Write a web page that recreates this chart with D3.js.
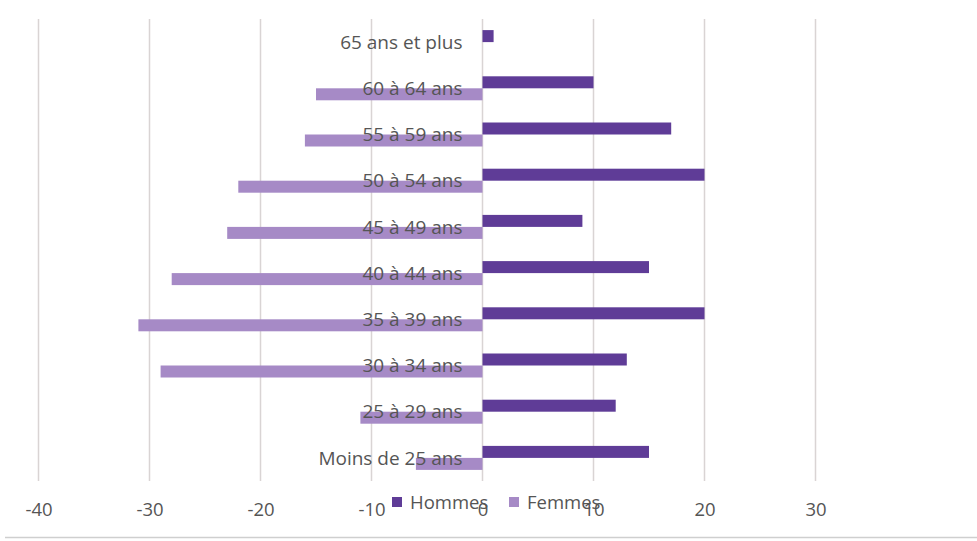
<!DOCTYPE html>
<html>
<head>
<meta charset="utf-8">
<script src="https://cdn.jsdelivr.net/npm/d3@7"></script>
<style>
  html, body { margin: 0; padding: 0; background: #fff; }
  svg { display: block; }
  text { font-family: "Open Sans", "Noto Sans", sans-serif; fill: #555555; }
</style>
</head>
<body>
<svg id="chart" width="977" height="541"></svg>
<script>
const categories = ["65 ans et plus", "60 à 64 ans", "55 à 59 ans", "50 à 54 ans", "45 à 49 ans",
                    "40 à 44 ans", "35 à 39 ans", "30 à 34 ans", "25 à 29 ans", "Moins de 25 ans"];
const hommes = [1, 10, 17, 20, 9, 15, 20, 13, 12, 15];
const femmes = [0, -15, -16, -22, -23, -28, -31, -29, -11, -6];
const tickValues = [-40, -30, -20, -10, 0, 10, 20, 30];
const seriesNames = ["Hommes", "Femmes"];
const colors = ["#5f3c97", "#a68ac6"];

const svg = d3.select("#chart");
const x = d3.scaleLinear().domain([-40, 40]).range([38.5, 926.5]);
const y = d3.scaleBand().domain(categories).range([19, 481]).paddingInner(0).paddingOuter(0);

// gridlines
svg.append("g").selectAll("line").data(tickValues).join("line")
  .attr("x1", d => x(d)).attr("x2", d => x(d))
  .attr("y1", 19).attr("y2", 481)
  .attr("stroke", "#d9d4d4").attr("stroke-width", 1.5);

const barH = 12;
const g = svg.append("g");
// Hommes bars (above center)
g.selectAll("rect.h").data(categories).join("rect").attr("class", "h")
  .attr("x", (d, i) => x(Math.min(0, hommes[i])))
  .attr("width", (d, i) => Math.abs(x(hommes[i]) - x(0)))
  .attr("y", d => y(d) + y.bandwidth() / 2 - barH)
  .attr("height", barH)
  .attr("fill", colors[0]);
// Femmes bars (below center)
g.selectAll("rect.f").data(categories).join("rect").attr("class", "f")
  .attr("x", (d, i) => x(Math.min(0, femmes[i])))
  .attr("width", (d, i) => Math.abs(x(femmes[i]) - x(0)))
  .attr("y", d => y(d) + y.bandwidth() / 2)
  .attr("height", barH)
  .attr("fill", colors[1]);

// category labels (drawn over bars)
svg.append("g").selectAll("text").data(categories).join("text")
  .attr("x", x(0) - 20)
  .attr("y", d => y(d) + y.bandwidth() / 2)
  .attr("dy", "0.35em")
  .attr("text-anchor", "end")
  .attr("font-size", 19)
  .text(d => d);

// x axis labels
const axis = d3.axisBottom(x).tickValues(tickValues).tickSize(0).tickPadding(0).tickFormat(d => String(d));
const ax = svg.append("g").attr("transform", "translate(0,503)").call(axis);
ax.select(".domain").remove();
ax.selectAll("text").attr("font-size", 18.5).style("font-family", "'Open Sans', sans-serif").attr("fill", "#555555");

// legend
const legendX = [392, 509];
const lg = svg.append("g");
seriesNames.forEach((name, i) => {
  lg.append("rect").attr("x", legendX[i]).attr("y", 497).attr("width", 10).attr("height", 10).attr("fill", colors[i]);
  lg.append("text").attr("x", legendX[i] + 18).attr("y", 503).attr("dy", "0.35em")
    .attr("font-size", 18.5).text(name);
});

// bottom border line
svg.append("line").attr("x1", 5).attr("x2", 977).attr("y1", 537.5).attr("y2", 537.5)
  .attr("stroke", "#cfcfcf").attr("stroke-width", 1.5);
</script>
</body>
</html>
